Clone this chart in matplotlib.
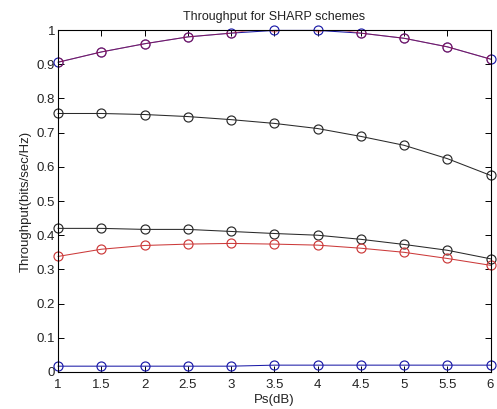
import matplotlib
matplotlib.use("Agg")
import matplotlib.pyplot as plt
import numpy as np

plt.rcParams['font.family'] = ['Liberation Sans', 'DejaVu Sans']

ps = [1, 1.5, 2, 2.5, 3, 3.5, 4, 4.5, 5, 5.5, 6]

# throughput curves
top_blue = [0.906, 0.936, 0.960, 0.980, 0.991, 0.999, 0.999, 0.991, 0.976, 0.951, 0.915]
top_red = [0.906, 0.936, 0.960, 0.980, 0.991, 1.010, 1.010, 0.991, 0.976, 0.951, 0.915]
mid_black = [0.756, 0.756, 0.753, 0.747, 0.738, 0.727, 0.712, 0.689, 0.663, 0.624, 0.575]
low_black = [0.420, 0.420, 0.417, 0.417, 0.411, 0.405, 0.400, 0.388, 0.373, 0.356, 0.331]
low_red = [0.338, 0.359, 0.370, 0.374, 0.376, 0.374, 0.371, 0.362, 0.350, 0.332, 0.312]
bottom_blue = [0.017, 0.017, 0.017, 0.017, 0.017, 0.020, 0.020, 0.020, 0.020, 0.020, 0.020]

xticks = [1, 1.5, 2, 2.5, 3, 3.5, 4, 4.5, 5, 5.5, 6]
xticklabels = ['1', '1.5', '2', '2.5', '3', '3.5', '4', '4.5', '5', '5.5', '6']
yticks = [0, 0.1, 0.2, 0.3, 0.4, 0.5, 0.6, 0.7, 0.8, 0.9, 1]
yticklabels = ['0', '0.1', '0.2', '0.3', '0.4', '0.5', '0.6', '0.7', '0.8', '0.9', '1']

fig = plt.figure(figsize=(4.97, 4.09), dpi=100)
ax = fig.add_axes([0.117, 0.0905, 0.870, 0.836])

style = dict(marker='o', markerfacecolor='none', markersize=6.5, linewidth=0.75, markeredgewidth=0.85)

ax.plot(ps, mid_black, color='#2a2a2a', clip_on=False, **style)
ax.plot(ps, low_black, color='#2a2a2a', clip_on=False, **style)
ax.plot(ps, low_red, color='#cc3a3a', clip_on=False, **style)
ax.plot(ps, bottom_blue, color='#1c1ca8', clip_on=False, **style)
ax.plot(ps, top_blue, color='#1c1ca8', clip_on=False, **style)
# red curve over the blue one; mostly overlapping so it reads purple
ax.plot(ps, top_red, color='#c0102a', alpha=0.55, clip_on=True, **style)

ax.set_xlim(1, 6)
ax.set_ylim(0, 1)
ax.set_xticks(xticks)
ax.set_xticklabels(xticklabels)
ax.set_yticks(yticks)
ax.set_yticklabels(yticklabels)
ax.tick_params(direction='in', top=True, right=True, labelsize=9.5, length=4, width=0.7,
               labelcolor='#222222')
ax.tick_params(axis='x', pad=5)
ax.tick_params(axis='y', pad=2)
for s in ax.spines.values():
    s.set_linewidth(0.8)

ax.set_title('Throughput for SHARP schemes', fontsize=9, pad=7, color='#222222')
ax.set_xlabel('Ps(dB)', fontsize=9.5, labelpad=2, color='#222222')
ax.set_ylabel('Throughput(bits/sec/Hz)', fontsize=9.5, labelpad=4, color='#222222')

fig.savefig('out.png', dpi=100)
